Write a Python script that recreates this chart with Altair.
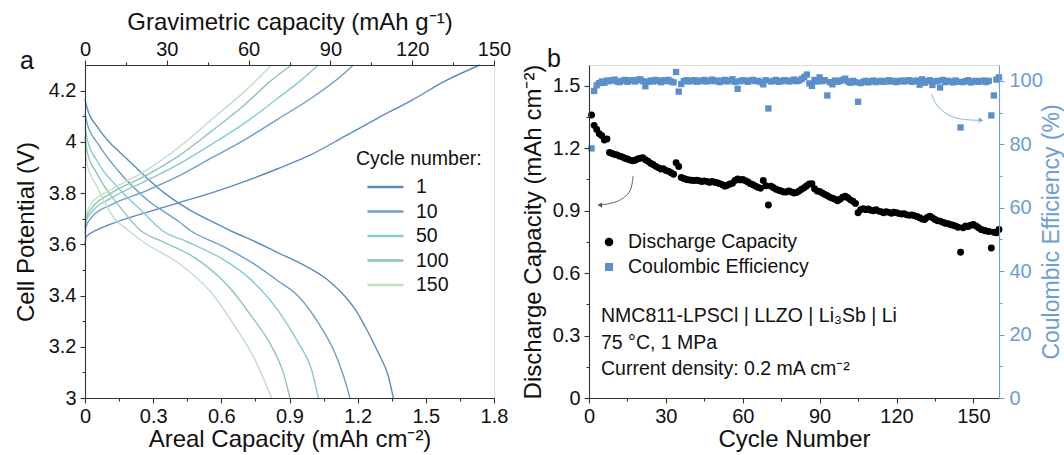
import altair as alt
import pandas as pd

FONT = "Liberation Sans"
BLUE = "#5b8fcc"
BLUE_AX = "#6d9dd2"

# ---------------- Panel a : voltage profiles ----------------
cycle_labels = ["1", "10", "50", "100", "150"]
cycle_colors = ["#5a8ac6", "#6c9fc9", "#86cbd3", "#8dc6b2", "#c2dfc2"]

charge_cap = {
    "1": [0, 0.005, 0.05, 0.117, 0.264, 0.411, 0.557, 0.704, 0.851, 0.997, 1.144, 1.291, 1.438, 1.584, 1.738],
    "10": [0, 0.005, 0.029, 0.117, 0.264, 0.411, 0.557, 0.704, 0.851, 0.997, 1.144, 1.181],
    "50": [0, 0.005, 0.029, 0.117, 0.264, 0.411, 0.557, 0.704, 0.851, 0.95, 1.027],
    "100": [0, 0.005, 0.029, 0.117, 0.264, 0.411, 0.557, 0.704, 0.82, 0.91],
    "150": [0, 0.005, 0.029, 0.117, 0.264, 0.411, 0.557, 0.704, 0.821],
}
charge_v = {
    "1": [3.60, 3.63, 3.655, 3.68, 3.723, 3.762, 3.801, 3.846, 3.896, 3.951, 4.022, 4.094, 4.162, 4.237, 4.30],
    "10": [3.64, 3.67, 3.705, 3.755, 3.807, 3.866, 3.937, 4.009, 4.09, 4.171, 4.27, 4.30],
    "50": [3.66, 3.69, 3.725, 3.781, 3.846, 3.912, 3.99, 4.074, 4.172, 4.24, 4.30],
    "100": [3.67, 3.70, 3.74, 3.801, 3.866, 3.944, 4.042, 4.146, 4.24, 4.30],
    "150": [3.68, 3.71, 3.76, 3.814, 3.886, 3.977, 4.087, 4.198, 4.30],
}
discharge_cap = {
    "1": [0, 0.01, 0.059, 0.117, 0.147, 0.2, 0.264, 0.35, 0.411, 0.5, 0.557, 0.645, 0.75, 0.851, 0.95, 1.07,
          1.144, 1.19, 1.232, 1.291, 1.335, 1.357],
    "10": [0, 0.01, 0.059, 0.147, 0.264, 0.411, 0.469, 0.6, 0.75, 0.851, 0.939, 1.027, 1.10, 1.14, 1.166],
    "50": [0, 0.01, 0.05, 0.147, 0.25, 0.345, 0.45, 0.6, 0.72, 0.851, 0.939, 0.997, 1.027],
    "100": [0, 0.01, 0.05, 0.15, 0.249, 0.337, 0.484, 0.631, 0.733, 0.821, 0.873, 0.902],
    "150": [0, 0.01, 0.05, 0.13, 0.19, 0.264, 0.411, 0.557, 0.66, 0.748, 0.821],
}
discharge_v = {
    "1": [4.166, 4.13, 4.053, 3.99, 3.964, 3.92, 3.866, 3.80, 3.762, 3.715, 3.69, 3.651, 3.61, 3.566, 3.525, 3.46,
          3.397, 3.345, 3.28, 3.176, 3.085, 3.0],
    "10": [4.11, 4.07, 3.99, 3.886, 3.781, 3.69, 3.651, 3.595, 3.52, 3.456, 3.397, 3.293, 3.176, 3.08, 3.0],
    "50": [4.06, 4.01, 3.93, 3.82, 3.73, 3.651, 3.61, 3.545, 3.47, 3.34, 3.215, 3.111, 3.0],
    "100": [4.02, 3.96, 3.88, 3.75, 3.651, 3.612, 3.547, 3.436, 3.319, 3.202, 3.098, 3.0],
    "150": [3.97, 3.91, 3.83, 3.70, 3.655, 3.605, 3.527, 3.41, 3.28, 3.15, 3.0],
}

areal_ticks = [round(i * 0.15, 2) for i in range(13)]
volt_ticks = [round(3 + i * 0.1, 1) for i in range(13)]
grav_ticks = list(range(0, 151, 15))
grav_range = [0, 150]

# ---------------- Panel b : cycling ----------------
cycles = list(range(1, 161))
discharge = [
    1.36, 1.31, 1.29, 1.27, 1.26, 1.24, 1.245, 1.18, 1.175, 1.17,
    1.168, 1.162, 1.158, 1.152, 1.148, 1.143, 1.14, 1.142, 1.148, 1.152,
    1.155, 1.145, 1.138, 1.128, 1.122, 1.113, 1.107, 1.10, 1.102, 1.093,
    1.09, 1.082, 1.075, 1.13, 1.112, 1.06, 1.055, 1.05, 1.048, 1.046,
    1.045, 1.046, 1.044, 1.04, 1.043, 1.041, 1.036, 1.04, 1.037, 1.034,
    1.03, 1.025, 1.018, 1.022, 1.028, 1.032, 1.045, 1.052, 1.048, 1.05,
    1.044, 1.038, 1.03, 1.025, 1.018, 1.012, 1.008, 1.045, 1.02, 0.927,
    1.018, 1.01, 1.003, 0.998, 0.995, 0.99, 0.99, 0.995, 0.99, 0.985,
    0.987, 0.995, 1.003, 1.01, 1.02, 1.028, 1.03, 1.005, 0.995, 0.992,
    0.985, 0.978, 0.972, 0.965, 0.96, 0.955, 0.948, 0.955, 0.965, 0.97,
    0.962, 0.952, 0.945, 0.935, 0.89, 0.905, 0.91, 0.905, 0.908, 0.902,
    0.90, 0.905, 0.898, 0.895, 0.89, 0.895, 0.892, 0.888, 0.893, 0.89,
    0.886, 0.884, 0.885, 0.88, 0.878, 0.88, 0.876, 0.872, 0.866, 0.86,
    0.858, 0.868, 0.874, 0.866, 0.858, 0.852, 0.85, 0.845, 0.84, 0.838,
    0.834, 0.83, 0.827, 0.82, 0.70, 0.818, 0.826, 0.824, 0.83, 0.834,
    0.826, 0.818, 0.81, 0.806, 0.803, 0.80, 0.721, 0.796, 0.794, 0.81,
]
efficiency = [
    78.7, 96.8, 98.6, 99.3, 99.8, 99.4, 100.1, 99.9, 100.2, 100.4,
    99.8, 99.6, 100.0, 100.3, 99.7, 100.1, 100.2, 99.8, 100.3, 100.5,
    99.9, 98.3, 99.7, 100.1, 99.8, 100.3, 100.0, 99.6, 100.2, 99.9,
    100.3, 99.8, 99.5, 102.8, 96.6, 99.0, 99.9, 100.2, 99.8, 100.0,
    100.2, 99.7, 100.1, 99.9, 100.3, 99.8, 100.0, 100.4, 99.9, 100.1,
    99.6, 100.0, 100.3, 99.8, 100.1, 100.5, 99.7, 97.5, 99.9, 100.2,
    100.0, 99.7, 100.1, 100.3, 99.9, 100.0, 99.6, 98.9, 100.2, 91.3,
    99.8, 100.0, 100.3, 99.7, 99.9, 100.2, 100.1, 99.8, 100.0, 100.4,
    99.9, 100.1, 100.6, 101.2, 102.0, 99.2, 98.4, 100.3, 99.8, 101.1,
    99.9, 100.2, 95.4, 99.6, 98.9, 100.1, 99.7, 100.0, 100.3, 100.7,
    99.8, 99.4, 100.0, 99.6, 93.4, 99.3, 99.7, 100.0, 99.5, 99.8,
    100.1, 99.6, 99.8, 100.0, 99.7, 99.9, 100.2, 99.8, 100.0, 99.6,
    99.9, 100.1, 99.8, 100.0, 100.2, 99.7, 99.9, 100.1, 98.8, 100.5,
    99.4, 99.9, 100.2, 98.7, 99.8, 100.0, 97.9, 100.3, 99.6, 100.0,
    99.8, 99.5, 100.1, 99.7, 85.3, 99.6, 99.9, 100.2, 99.5, 99.8,
    100.0, 99.7, 99.9, 100.1, 99.6, 100.0, 89.1, 95.4, 100.4, 101.1,
]
cycle_ticks = list(range(0, 151, 15))
cap_ticks = [round(i * 0.15, 2) for i in range(11)]
ce_ticks = list(range(0, 101, 10))

# annotation arrows (data coordinates)
arrow1_cycle = [17.2, 16.6, 14.6, 10.7, 4.2]
arrow1_cap = [1.067, 1.0, 0.97, 0.938, 0.927]
arrow2_cycle = [133.6, 135.5, 140.1, 146.6, 153.0]
arrow2_ce = [95.8, 92.1, 88.9, 87.6, 87.6]

LABEL_FS = 20
TITLE_FS = 24
TEXT_FS = 19.5


# ---------------- helpers ----------------
def axis(**kw):
    base = dict(labelFont=FONT, titleFont=FONT, labelFontSize=LABEL_FS, titleFontSize=TITLE_FS,
                titleFontWeight="normal", labelColor="#111", titleColor="#111",
                domainColor="#333", tickColor="#333", grid=False, labelPadding=4,
                labelFlush=False, labelOverlap=False, zindex=1, domainWidth=1.1, tickWidth=1.1)
    base.update(kw)
    return alt.Axis(**base)


def major_minor(test, big=5, small=3):
    return {"condition": {"test": test, "value": big}, "value": small}


rows = []
for c in cycle_labels:
    for kind, xs, ys in (("charge", charge_cap[c], charge_v[c]),
                         ("discharge", discharge_cap[c], discharge_v[c])):
        for i, (x, y) in enumerate(zip(xs, ys)):
            rows.append({"cycle": c, "seg": c + "-" + kind, "idx": i, "cap": x, "v": y})
df_a = pd.DataFrame(rows)

test_a = "round(datum.value*100) % 30 == 0"
y_a = alt.Y("v:Q", scale=alt.Scale(domain=[3, 4.3], nice=False, zero=False),
            axis=axis(orient="left", values=volt_ticks, title="Cell Potential (V)",
                      labelExpr="round(datum.value*10) % 2 == 0 ? format(datum.value, '~g') : ''",
                      tickSize=major_minor("round(datum.value*10) % 2 == 0"), titlePadding=10))

lines = alt.Chart(df_a).mark_line(strokeWidth=1.4, interpolate="monotone").encode(
    x=alt.X("cap:Q", scale=alt.Scale(domain=[0, 1.8], nice=False, zero=False),
            axis=axis(orient="bottom", values=areal_ticks, title="Areal Capacity (mAh cm⁻²)",
                      labelExpr=test_a + " ? format(datum.value, '~g') : ''",
                      tickSize=major_minor(test_a), labelPadding=3, titlePadding=1)),
    y=y_a,
    color=alt.Color("cycle:N", sort=cycle_labels,
                    scale=alt.Scale(domain=cycle_labels, range=cycle_colors),
                    legend=alt.Legend(title="Cycle number:", orient="none", legendX=271, legendY=85,
                                      symbolType="M0.1,0H4.1", symbolSize=324, symbolStrokeWidth=2.5,
                                      labelOffset=39, labelFont=FONT, labelFontSize=TEXT_FS,
                                      titleFont=FONT, titleFontSize=TEXT_FS, titleFontWeight="normal",
                                      titleColor="#111", labelColor="#111", rowPadding=4.5,
                                      titlePadding=7, padding=0)),
    detail="seg:N",
    order="idx:Q",
)

df_g = pd.DataFrame({"g": grav_range, "v": [3.0, 3.0]})
top_axis = alt.Chart(df_g).mark_point(opacity=0).encode(
    x=alt.X("g:Q", scale=alt.Scale(domain=grav_range, nice=False, zero=False),
            axis=axis(orient="top", values=grav_ticks, title="Gravimetric capacity (mAh g⁻¹)",
                      labelExpr="datum.value % 30 == 0 ? datum.label : ''",
                      tickSize=major_minor("datum.value % 30 == 0"), labelPadding=1, titlePadding=5)),
    y=y_a,
)

label_a = alt.Chart(pd.DataFrame({"t": ["a"]})).mark_text(
    text="a", font=FONT, fontSize=25, color="#111", align="center", baseline="alphabetic"
).encode(x=alt.value(-58), y=alt.value(4))

panel_a = alt.layer(lines, top_axis, label_a).resolve_scale(x="independent").properties(
    width=409, height=333)

# ---------------- Panel b ----------------
df_b = pd.DataFrame({"cycle": cycles, "cap": discharge, "ce": efficiency})
test_b = "datum.value % 30 == 0"
x_b = alt.X("cycle:Q", scale=alt.Scale(domain=[0, 160], nice=False, zero=False),
            axis=axis(orient="bottom", values=cycle_ticks, title="Cycle Number",
                      labelExpr=test_b + " ? datum.label : ''",
                      tickSize=major_minor(test_b), labelPadding=3, titlePadding=1))

dis_pts = alt.Chart(df_b).mark_point(shape="circle", filled=True, size=48, color="black", opacity=1).encode(
    x=x_b,
    y=alt.Y("cap:Q", scale=alt.Scale(domain=[0, 1.6], nice=False, zero=False),
            axis=axis(orient="left", values=cap_ticks, title="Discharge Capacity (mAh cm⁻²)",
                      labelExpr="round(datum.value*100) % 30 == 0 ? format(datum.value, '~g') : ''",
                      tickSize=major_minor("round(datum.value*100) % 30 == 0"), titlePadding=7)),
)

ce_pts = alt.Chart(df_b).mark_point(shape="square", filled=True, size=40, color=BLUE, opacity=1).encode(
    x=x_b,
    y=alt.Y("ce:Q", scale=alt.Scale(domain=[0, 105], nice=False, zero=False),
            axis=axis(orient="right", values=ce_ticks, title="Coulombic Efficiency (%)",
                      labelExpr="datum.value % 20 == 0 ? datum.label : ''",
                      tickSize=major_minor("datum.value % 20 == 0"), labelPadding=5,
                      titleFontSize=23,
                      labelColor=BLUE_AX, titleColor=BLUE_AX, domainColor=BLUE_AX, tickColor=BLUE_AX,
                      titleAngle=270, titleBaseline="top", titlePadding=-2)),
)

df_ar1 = pd.DataFrame({"cycle": arrow1_cycle, "cap": arrow1_cap, "i": range(len(arrow1_cycle))})
df_ar2 = pd.DataFrame({"cycle": arrow2_cycle, "ce": arrow2_ce, "i": range(len(arrow2_cycle))})
y_cap_hidden = alt.Y("cap:Q", scale=alt.Scale(domain=[0, 1.6], nice=False, zero=False), axis=None)
y_ce_hidden = alt.Y("ce:Q", scale=alt.Scale(domain=[0, 105], nice=False, zero=False), axis=None)

arrow1 = alt.Chart(df_ar1).mark_line(color="#555", strokeWidth=0.9, interpolate="basis").encode(
    x="cycle:Q", y=y_cap_hidden, order="i:Q")
head1 = alt.Chart(df_ar1.tail(1)).mark_point(shape="triangle-left", filled=True, size=28, color="#555",
                                              opacity=1).encode(x="cycle:Q", y=y_cap_hidden)
arrow2 = alt.Chart(df_ar2).mark_line(color="#7fa8d8", strokeWidth=0.9, interpolate="basis").encode(
    x="cycle:Q", y=y_ce_hidden, order="i:Q")
head2 = alt.Chart(df_ar2.tail(1)).mark_point(shape="triangle-right", filled=True, size=28, color="#7fa8d8",
                                              opacity=1).encode(x="cycle:Q", y=y_ce_hidden)

one = pd.DataFrame({"t": [0]})
leg_c = alt.Chart(one).mark_point(shape="circle", filled=True, size=75, color="black", opacity=1).encode(
    x=alt.value(20), y=alt.value(177))
leg_s = alt.Chart(one).mark_point(shape="square", filled=True, size=65, color=BLUE, opacity=1).encode(
    x=alt.value(20), y=alt.value(202))
leg_t1 = alt.Chart(one).mark_text(text="Discharge Capacity", font=FONT, fontSize=TEXT_FS, color="#111",
                                  align="left", baseline="middle").encode(x=alt.value(39), y=alt.value(177))
leg_t2 = alt.Chart(one).mark_text(text="Coulombic Efficiency", font=FONT, fontSize=TEXT_FS, color="#111",
                                  align="left", baseline="middle").encode(x=alt.value(39), y=alt.value(202))
info = alt.Chart(one).mark_text(
    text="NMC811-LPSCl | LLZO | Li₃Sb | Li\n75 °C, 1 MPa\nCurrent density: 0.2 mA cm⁻²",
    lineBreak="\n", lineHeight=26.7, font=FONT, fontSize=TEXT_FS, color="#111", align="left", baseline="middle"
).encode(x=alt.value(12), y=alt.value(251))
label_b = alt.Chart(one).mark_text(text="b", font=FONT, fontSize=25, color="#111", align="center",
                                   baseline="alphabetic").encode(x=alt.value(-35), y=alt.value(2))

panel_b = alt.layer(dis_pts, ce_pts, arrow1, head1, arrow2, head2, leg_c, leg_s, leg_t1, leg_t2, info,
                    label_b).resolve_scale(y="independent").properties(width=410, height=333)

chart = alt.hconcat(panel_a, panel_b, spacing=95, bounds="flush").properties(
    padding={"left": 13, "top": 9, "right": 0, "bottom": 0}
).configure_view(stroke="#333", strokeWidth=1.1).configure(font=FONT)

chart.save("out.html", embed_options={"renderer": "svg", "actions": False})
